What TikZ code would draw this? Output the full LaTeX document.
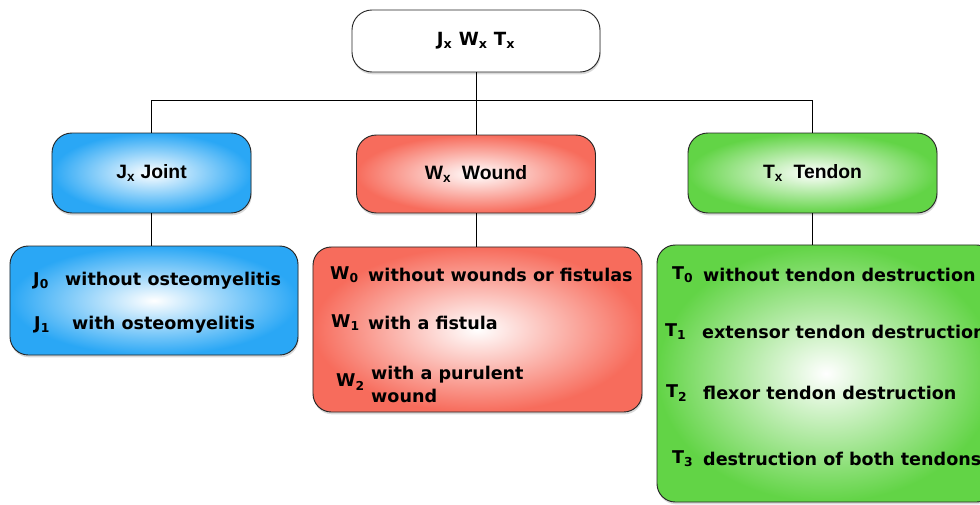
\documentclass[tikz,border=0pt]{standalone}
\usepackage{fontspec}
\setmainfont{DejaVu Sans}
\newfontfamily\headfont{Liberation Sans}
\usetikzlibrary{shadows}

\definecolor{jointblue}{RGB}{42,167,245}
\definecolor{woundred}{RGB}{247,108,92}
\definecolor{tendongreen}{RGB}{98,212,70}

\tikzstyle{box}=[draw=black!85,line width=0.8pt,rounded corners=0.6cm,drop shadow={opacity=0.3,shadow xshift=0.6pt,shadow yshift=-2pt}]
\tikzstyle{head}=[box,font=\headfont\bfseries\fontsize{16.5}{18}\selectfont]
\tikzstyle{listbox}=[box,rounded corners=0.55cm]
\tikzstyle{item}=[anchor=west,inner sep=0pt,font=\bfseries\fontsize{15}{19.6}\selectfont]

\begin{document}
\begin{tikzpicture}[x=0.03cm,y=-0.03cm]
    \useasboundingbox (0,0) rectangle (980,504);
    % headers
    \node[box,fill=white,minimum width=7.44cm,minimum height=1.86cm,font=\bfseries\fontsize{15.5}{17}\selectfont] (top) at (476,41) {J\textsubscript{x} W\textsubscript{x} T\textsubscript{x}};
    \node[head,shading=radial,inner color=white,outer color=jointblue,minimum width=5.97cm,minimum height=2.4cm] (joint) at (151.5,173) {J\textsubscript{x} Joint};
    \node[head,shading=radial,inner color=white,outer color=woundred,minimum width=7.17cm,minimum height=2.34cm] (wound) at (476,174) {W\textsubscript{x}\ \ Wound};
    \node[head,shading=radial,inner color=white,outer color=tendongreen,minimum width=7.47cm,minimum height=2.4cm] (tendon) at (812.5,173) {T\textsubscript{x}\ \ Tendon};

    % lists
    \node[listbox,shading=radial,inner color=white,outer color=jointblue,minimum width=8.64cm,minimum height=3.27cm] (jlist) at (154,300.5) {};
    \node[listbox,shading=radial,inner color=white,outer color=woundred,minimum width=9.87cm,minimum height=4.95cm] (wlist) at (477.5,329.5) {};
    \node[listbox,shading=radial,inner color=white,outer color=tendongreen,minimum width=10.14cm,minimum height=7.71cm] (tlist) at (826,373.5) {};

    % tree
    \coordinate (split) at (476,100);
    \draw (top) -- (split);
    \draw (split) -| (joint.north);
    \draw (split) -| (tendon.north);
    \draw (split) -- (wound);
    \foreach \from/\to in {joint/jlist,wound/wlist,tendon/tlist}
    \draw (\from.south) -- (\from.south |- \to.north);

    % items
    \foreach \n/\sx/\tx/\y/\s/\t in {j0/33/65/281/J\textsubscript{0}/without osteomyelitis,
        j1/34/72/325/J\textsubscript{1}/with osteomyelitis,
        w0/330/368/275/W\textsubscript{0}/without wounds or fistulas,
        w1/331/368/323/W\textsubscript{1}/with a fistula,
        t0/672/703/275/T\textsubscript{0}/without tendon destruction,
        t1/665/702/332/T\textsubscript{1}/extensor tendon destruction,
        t2/666/703/393/T\textsubscript{2}/flexor tendon destruction,
        t3/672/703/459/T\textsubscript{3}/destruction of both tendons}
    {
        \node[item] (s\n) at (\sx,\y) {\s};
        \node[item] (t\n) at (\tx,\y) {\t};
    }
    \node[item] (sw2) at (336,382) {W\textsubscript{2}};
    \node[item,align=left] (tw2) at (371,384) {with a purulent\\wound};
\end{tikzpicture}
\end{document}
